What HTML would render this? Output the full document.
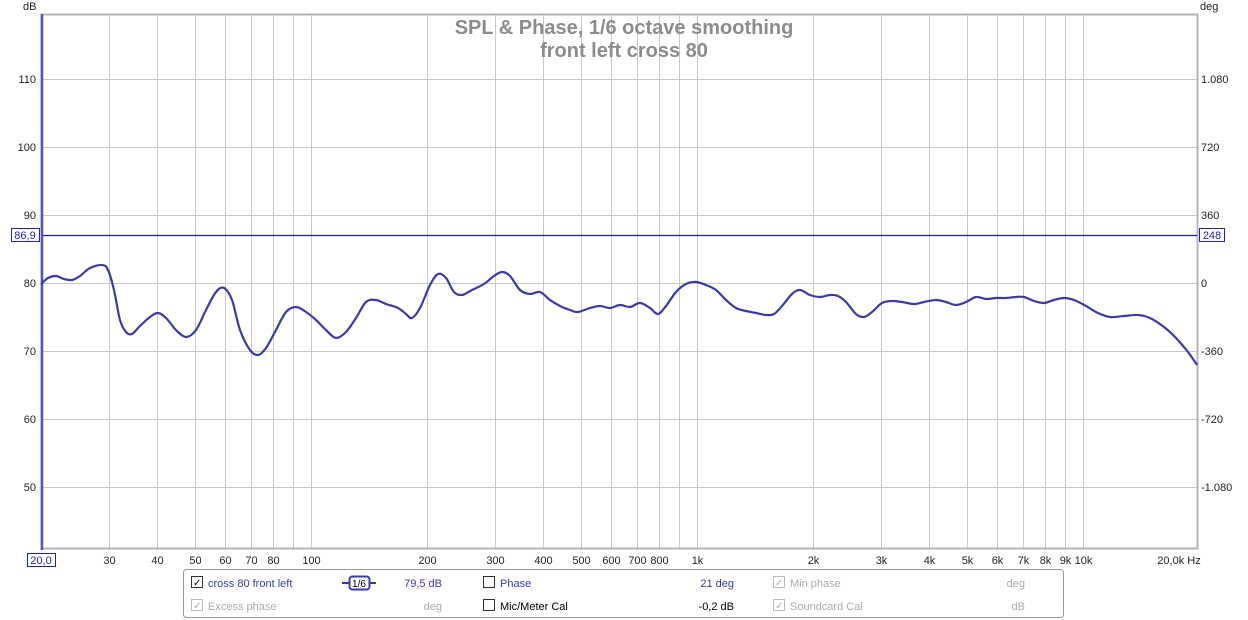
<!DOCTYPE html><html><head><style>body{margin:0;background:#fff;}svg{display:block;font-family:"Liberation Sans",sans-serif;}</style></head><body>
<svg width="1248" height="620" xmlns="http://www.w3.org/2000/svg">
<rect width="1248" height="620" fill="#fff"/>
<g id="grid" stroke="#c8c8c8" stroke-width="1"></g>
<rect x="41.5" y="14.5" width="1156" height="534" fill="none" stroke="#b4b4b4" stroke-width="2"/>
<line x1="41" y1="235.5" x2="1197" y2="235.5" stroke="#1c1ca8" stroke-width="1.2"/>
<line x1="42" y1="14" x2="42" y2="550" stroke="#5055c0" stroke-width="2.5"/>
<path id="curve" fill="none" stroke="#3a3aa8" stroke-width="2.2" stroke-linejoin="round"/>
<g font-size="20" font-weight="bold" fill="#8c8c8c" text-anchor="middle"><text x="624" y="34">SPL &amp; Phase, 1/6 octave smoothing</text><text x="624" y="57">front left cross 80</text></g>
<g font-size="11" fill="#222"><text x="23" y="10">dB</text><text x="1200" y="10">deg</text>
<g text-anchor="end"><text x="36" y="83">110</text><text x="36" y="151">100</text><text x="36" y="219">90</text><text x="36" y="287">80</text><text x="36" y="355">70</text><text x="36" y="423">60</text><text x="36" y="491">50</text></g>
<g><text x="1201" y="83">1.080</text><text x="1201" y="151">720</text><text x="1201" y="219">360</text><text x="1201" y="287">0</text><text x="1201" y="355">-360</text><text x="1201" y="423">-720</text><text x="1201" y="491">-1.080</text></g>
<g id="xl" text-anchor="middle"></g>
<text x="1179" y="564" text-anchor="middle">20,0k Hz</text></g>
<rect x="11.5" y="228.5" width="28" height="13" fill="#fff" stroke="#2020c0"/><text x="25" y="239" font-size="11" fill="#2020c0" text-anchor="middle">86,9</text>
<rect x="1199.5" y="228.5" width="25" height="13" fill="#fff" stroke="#2020c0"/><text x="1212" y="239" font-size="11" fill="#2020c0" text-anchor="middle">248</text>
<rect x="27.5" y="553.5" width="28" height="13" fill="#fff" stroke="#2020c0"/><text x="41" y="564" font-size="11" fill="#2020c0" text-anchor="middle">20,0</text>
<rect x="183.5" y="569.5" width="880" height="48" rx="3" fill="#fff" stroke="#999"/>
<g font-size="11">
<rect x="191.5" y="576.5" width="11" height="11" fill="#fff" stroke="#333"/><text x="193" y="586" font-size="10">✓</text>
<text x="208" y="587" fill="#3a3aa8">cross 80 front left</text>
<line x1="342" y1="583" x2="376" y2="583" stroke="#3a3aa8" stroke-width="2"/><rect x="349.5" y="576.5" width="20" height="13" rx="3" fill="#fff" stroke="#3a3aa8" stroke-width="2"/><text x="359" y="587" text-anchor="middle" font-size="10">1/6</text>
<text x="442" y="587" fill="#3a3aa8" text-anchor="end">79,5 dB</text>
<rect x="483.5" y="576.5" width="11" height="11" fill="#fff" stroke="#333"/><text x="500" y="587" fill="#3a3aa8">Phase</text>
<text x="734" y="587" fill="#3a3aa8" text-anchor="end">21 deg</text>
<rect x="773.5" y="576.5" width="11" height="11" fill="#fff" stroke="#bbb"/><text x="775" y="586" font-size="10" fill="#aaa">✓</text><text x="790" y="587" fill="#aaa">Min phase</text>
<text x="1025" y="587" fill="#aaa" text-anchor="end">deg</text>
<rect x="191.5" y="599.5" width="11" height="11" fill="#fff" stroke="#bbb"/><text x="193" y="609" font-size="10" fill="#aaa">✓</text><text x="208" y="610" fill="#aaa">Excess phase</text>
<text x="442" y="610" fill="#aaa" text-anchor="end">deg</text>
<rect x="483.5" y="599.5" width="11" height="11" fill="#fff" stroke="#333"/><text x="500" y="610">Mic/Meter Cal</text>
<text x="734" y="610" text-anchor="end">-0,2 dB</text>
<rect x="773.5" y="599.5" width="11" height="11" fill="#fff" stroke="#bbb"/><text x="775" y="609" font-size="10" fill="#aaa">✓</text><text x="790" y="610" fill="#aaa">Soundcard Cal</text>
<text x="1025" y="610" fill="#aaa" text-anchor="end">dB</text>
</g>
</svg>
<script>
var ns="http://www.w3.org/2000/svg",g=document.getElementById("grid"),xl=document.getElementById("xl");
function ln(a,b,c,d){var l=document.createElementNS(ns,"line");l.setAttribute("x1",a);l.setAttribute("y1",b);l.setAttribute("x2",c);l.setAttribute("y2",d);g.appendChild(l);}
[79,147,215,283,351,419,487].forEach(function(y){ln(41,y+.5,1197,y+.5);});
var fs=[30,40,50,60,70,80,90,100,200,300,400,500,600,700,800,900,1000,2000,3000,4000,5000,6000,7000,8000,9000,10000];
var lb={30:"30",40:"40",50:"50",60:"60",70:"70",80:"80",100:"100",200:"200",300:"300",400:"400",500:"500",600:"600",700:"700",800:"800",1000:"1k",2000:"2k",3000:"3k",4000:"4k",5000:"5k",6000:"6k",7000:"7k",8000:"8k",9000:"9k",10000:"10k"};
fs.forEach(function(f){var x=Math.round(41+386*Math.log10(f/20))+.5;ln(x,14,x,548);if(lb[f]){var t=document.createElementNS(ns,"text");t.setAttribute("x",x);t.setAttribute("y",564);t.textContent=lb[f];xl.appendChild(t);}});
var s="41,284 48,278 56,276 64,279 72,280 80,276 90,268 102,265 108,270 114,290 120,320 126,332 132,334 140,326 150,317 158,313 166,318 176,330 186,337 196,330 206,310 216,292 224,288 232,300 240,330 250,350 258,355 266,348 276,330 286,312 296,307 306,312 316,320 326,330 336,338 346,332 356,318 366,302 376,300 386,304 398,308 406,314 412,318 420,308 430,285 438,274 446,278 454,292 462,295 472,290 484,284 494,276 502,272 510,276 520,290 530,294 540,292 550,300 560,306 570,310 578,312 590,308 600,306 610,308 620,305 630,307 640,303 650,308 658,314 666,306 676,292 686,284 696,282 706,285 716,290 726,300 736,308 746,311 756,313 766,315 774,314 782,306 792,294 800,290 810,295 820,297 830,295 838,296 846,302 856,314 864,317 872,312 882,303 892,301 902,302 914,304 924,302 936,300 946,302 956,305 966,302 976,297 986,299 996,298 1006,298 1016,297 1024,297 1034,301 1044,303 1054,300 1064,298 1074,300 1086,306 1098,313 1110,317 1124,316 1138,315 1150,318 1164,327 1176,338 1188,352 1197,365";
var p=s.split(" ").map(function(q){return q.split(",").map(Number);});
var d="M"+p[0][0]+","+p[0][1];
for(var i=0;i<p.length-1;i++){var p0=p[Math.max(0,i-1)],p1=p[i],p2=p[i+1],p3=p[Math.min(p.length-1,i+2)];
d+=" C"+(p1[0]+(p2[0]-p0[0])/6).toFixed(1)+","+(p1[1]+(p2[1]-p0[1])/6).toFixed(1)+" "+(p2[0]-(p3[0]-p1[0])/6).toFixed(1)+","+(p2[1]-(p3[1]-p1[1])/6).toFixed(1)+" "+p2[0]+","+p2[1];}
document.getElementById("curve").setAttribute("d",d);
</script>
</body></html>
